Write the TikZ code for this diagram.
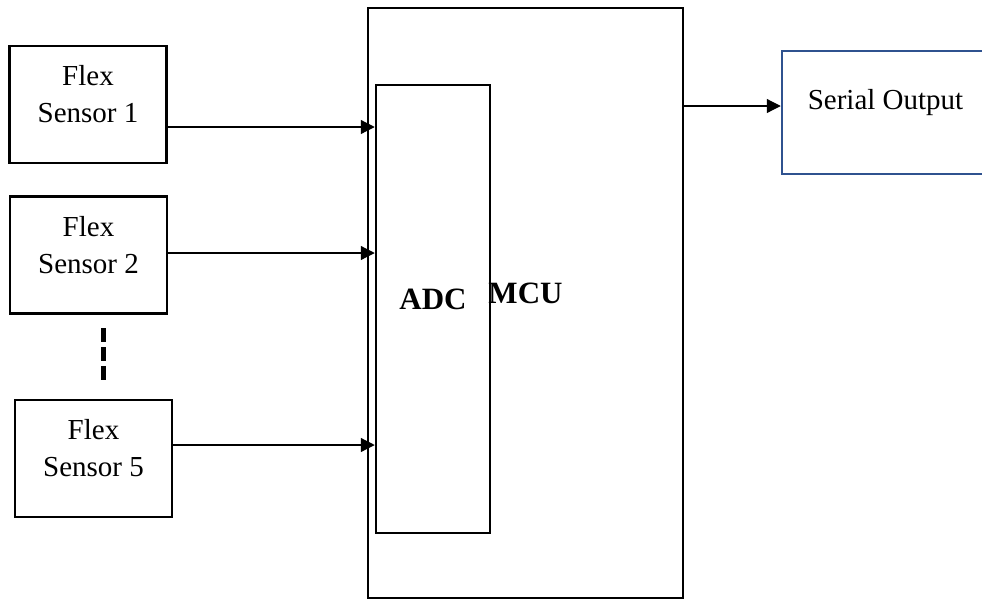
\documentclass[tikz,border=0pt]{standalone}
\usepackage{fontspec}
\setmainfont{Liberation Serif}
\usepackage{xcolor}
\usetikzlibrary{arrows.meta,calc}
\definecolor{serialblue}{RGB}{47,82,143}

\begin{document}
\begin{tikzpicture}[x=1pt, y=-1pt,
  box/.style    = {rectangle, draw, line width=2.5pt, inner sep=0pt},
  sensor/.style = {box, minimum width=157pt, minimum height=117pt},
  txt/.style    = {font=\fontsize{29}{37}\selectfont, align=center, yshift=10pt},
  bold/.style   = {txt, font=\fontsize{31}{37}\selectfont\bfseries},
  arr/.style    = {-{Triangle[length=14pt,width=14pt]}, line width=1.2pt},
  gapline/.style= {line width=5pt, dash pattern=on 14pt off 5pt}
]
\useasboundingbox (0,0) rectangle (982,600);
\clip (0,0) rectangle (982,600);

% ,  Sensor column (left) ,
\node[sensor, label={[txt, name=flexAtxt]center:{Flex\\Sensor 1}}] (flexA) at (88,104.5) {};
\node[sensor, label={[txt, name=flexBtxt]center:{Flex\\Sensor 2}}] (flexB) at (88.5,255) {};
\node[sensor, label={[txt, name=flexEtxt]center:{Flex\\Sensor 5}}] (flexE) at (93.5,458.5) {};

% ,  Controller with its converter ,
\node[box, minimum width=315pt, minimum height=590pt,
      label={[bold, name=mcutxt]center:MCU}] (mcu) at (525.5,303) {};
\node[box, minimum width=114pt, minimum height=448pt,
      label={[bold, name=adctxt]center:ADC}] (adc) at (433,309) {};

% ,  Output (right, runs off the page) ,
\node[box, draw=serialblue, minimum width=207pt, minimum height=123pt,
      label={[txt, name=serialtxt]center:Serial Output}] (serial) at (885.5,112.5) {};

% ,  Sensors left out between 2 and 5 ,
\coordinate (gapTop) at (103,328);
\coordinate (gapEnd) at (103,380);
\draw[gapline] (gapTop) -- (gapEnd);

% ,  Arrows: sensors -> ADC ,
\draw[arr] ([yshift=-22.5pt]flexA.east) -- ([yshift=-22.5pt]flexA.east -| adc.west);
\draw[arr] ([yshift=2pt]flexB.east)     -- ([yshift=2pt]flexB.east -| adc.west);
\draw[arr] ([yshift=13.5pt]flexE.east)  -- ([yshift=13.5pt]flexE.east -| adc.west);

% ,  Arrow: MCU -> output ,
\draw[arr] ([yshift=6.5pt]serial.west -| mcu.east) -- ([yshift=6.5pt]serial.west);

\end{tikzpicture}
\end{document}
